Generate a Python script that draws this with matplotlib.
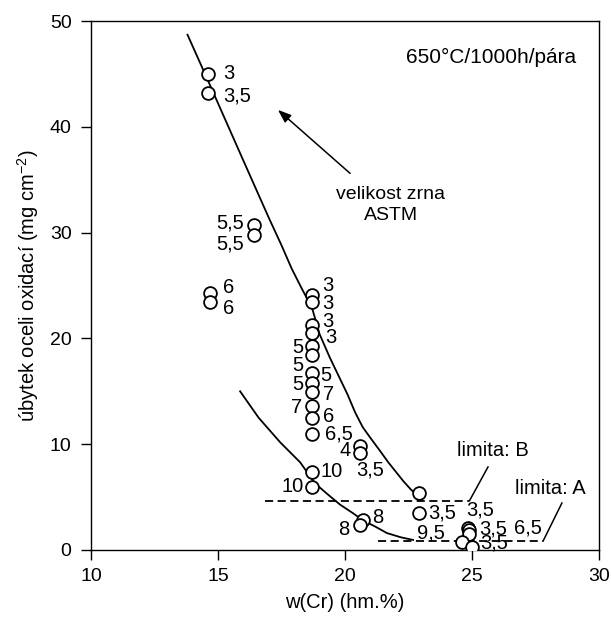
import matplotlib
matplotlib.use("Agg")
import matplotlib.pyplot as plt

plt.rcParams['font.family'] = ['Liberation Sans', 'DejaVu Sans']
plt.rcParams['mathtext.fontset'] = 'custom'
plt.rcParams['mathtext.rm'] = 'Liberation Sans'

# data points: Cr content, mass loss, ASTM grain size label
cr = [14.6, 14.6, 16.4, 16.4, 14.7, 14.7,
      18.7, 18.7, 18.7, 18.7, 18.7, 18.7, 18.7, 18.7, 18.7, 18.7, 18.7, 18.7,
      20.6, 20.6, 18.7, 18.7, 20.7, 20.6,
      22.9, 22.9, 24.85, 24.9, 24.9, 24.6, 25.0]
loss = [45.0, 43.2, 30.7, 29.8, 24.3, 23.4,
        24.1, 23.4, 21.3, 20.5, 19.3, 18.4, 16.7, 15.8, 14.9, 13.6, 12.5, 11.0,
        9.8, 9.2, 7.4, 6.0, 2.8, 2.4,
        5.4, 3.5, 2.1, 1.85, 1.5, 0.76, 0.28]
grain = ["3", "3,5", "5,5", "5,5", "6", "6",
         "3", "3", "3", "3", "5", "5", "5", "5", "7", "7", "6", "6,5",
         "4", "3,5", "10", "10", "8", "8",
         "", "3,5", "3,5", "3,5", "6,5", "9,5", "3,5"]
# label offsets in pixels (dx, dy) and alignment
lab_off = [(15, 0), (15, -3), (-10, 2), (-10, -9), (13, 5), (13, -6),
           (10, 10), (10, -1), (10, 3), (13, -4), (-9, -2), (-9, -10), (8, -2), (-9, -2),
           (11, -2), (-10, -1), (11, 1), (13, 0),
           (-9, -4), (-4, -17), (9, 0), (-8, 0), (9, 3), (-11, -5),
           (0, 0), (10, 0), (-2, 18), (10, 1), (45, 6), (-45, 9), (8, 4)]
lab_ha = ["left", "left", "right", "right", "left", "left",
          "left", "left", "left", "left", "right", "right", "left", "right",
          "left", "right", "left", "left",
          "right", "left", "left", "right", "left", "right",
          "left", "left", "left", "left", "left", "left", "left"]

# trend curves
upper_x = [13.8, 14.6, 15.3, 16.0, 16.5, 17.0, 17.5, 17.9, 18.3, 18.7, 19.0, 19.4, 19.8,
           20.1, 20.4, 20.7, 21.0, 21.4, 21.7, 22.0, 22.3, 22.6, 22.95]
upper_y = [48.7, 44.4, 40.6, 36.8, 34.1, 31.4, 28.8, 26.6, 24.7, 22.9, 20.4, 18.2, 16.2,
           14.7, 13.0, 11.6, 10.6, 9.3, 8.3, 7.4, 6.5, 5.7, 5.0]
lower_x = [15.87, 16.6, 17.44, 18.23, 18.82, 19.3, 19.8, 20.3, 20.71, 21.2, 21.65, 22.2, 22.68]
lower_y = [15.0, 12.5, 10.2, 8.3, 6.3, 5.3, 4.3, 3.5, 2.8, 2.2, 1.6, 1.2, 0.95]

# limit lines
limB_x = [16.85, 24.9]
limB_y = 4.65
limA_x = [21.3, 27.8]
limA_y = 0.85

fig = plt.figure(figsize=(6.11, 6.18), dpi=100)
ax = fig.add_axes([91/611, 1-550/618, (599-91)/611, (550-21)/618])

ax.plot(upper_x, upper_y, color='black', lw=1.3)
ax.plot(lower_x, lower_y, color='black', lw=1.3)
ax.plot(limB_x, [limB_y, limB_y], color='black', lw=1.3, dashes=(4.5, 2.5))
ax.plot(limA_x, [limA_y, limA_y], color='black', lw=1.3, dashes=(4.5, 2.5))
ax.plot([limB_x[1], 25.63], [limB_y, 7.85], color='black', lw=1.1)
ax.plot([limA_x[1], 28.54], [limA_y, 4.44], color='black', lw=1.1)

ax.plot(cr, loss, 'o', ms=9.2, mfc='white', mec='black', mew=1.3, zorder=3)

for x, y, t, (dx, dy), ha in zip(cr, loss, grain, lab_off, lab_ha):
    if t:
        ax.annotate(t, (x, y), xytext=(dx, dy), textcoords='offset pixels',
                    ha=ha, va='center', fontsize=14.5, zorder=4)

ax.text(24.41, 9.45, "limita: B", fontsize=14.5, ha='left', va='center')
ax.text(26.69, 5.86, "limita: A", fontsize=14.5, ha='left', va='center')
ax.text(25.75, 46.6, "650°C/1000h/pára", fontsize=15, ha='center', va='center')
ax.text(21.8, 32.6, "velikost zrna\nASTM", fontsize=14, ha='center', va='center',
        linespacing=1.25)
ax.annotate("", xy=(17.36, 41.6), xytext=(20.2, 35.6),
            arrowprops=dict(arrowstyle='-|>,head_length=0.8,head_width=0.3',
                            color='black', lw=1.1, shrinkA=0, shrinkB=0))

ax.set_xlim(10, 30)
ax.set_ylim(0, 50)
ax.set_xticks([10, 15, 20, 25, 30])
ax.set_yticks([0, 10, 20, 30, 40, 50])
ax.tick_params(direction='out', length=7, width=1, labelsize=14)
ax.tick_params(axis='x', pad=6)
ax.tick_params(axis='y', pad=7)
for s in ax.spines.values():
    s.set_linewidth(1.0)
ax.set_xlabel("w(Cr) (hm.%)", fontsize=14.5, labelpad=6)
ax.set_ylabel(r"úbytek oceli oxidací (mg cm$^{\mathregular{-2}}$)", fontsize=14.5, labelpad=6)

fig.savefig("out.png", dpi=100)
